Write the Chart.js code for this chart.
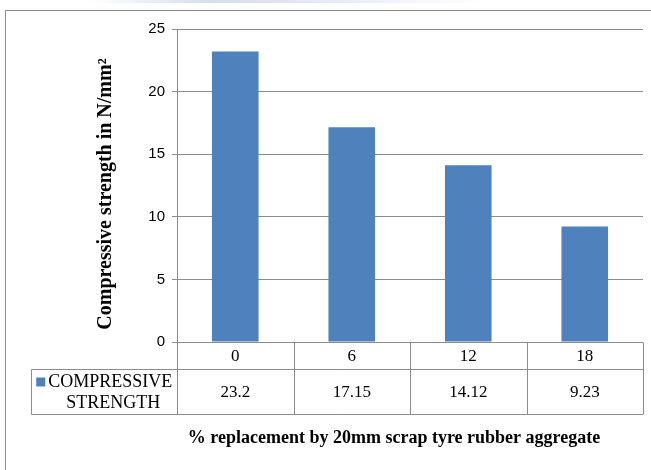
<!DOCTYPE html>
<html>
<head>
<meta charset="utf-8">
<script src="https://cdn.jsdelivr.net/npm/chart.js@4.4.1/dist/chart.umd.min.js"></script>
<style>
  html, body { margin: 0; padding: 0; background: #fff; }
  #wrap { width: 651px; height: 470px; position: relative; }
</style>
</head>
<body>
<div id="wrap"><canvas id="chart"></canvas></div>
<script>
const categories = ['0', '6', '12', '18'];          // % replacement
const strength = [23.2, 17.15, 14.12, 9.23];        // compressive strength N/mm²
const seriesLines = ['COMPRESSIVE', 'STRENGTH'];    // legend text in the data table
const yTitle = 'Compressive strength in N/mm²';
const xTitle = '% replacement by 20mm scrap tyre rubber aggregate';

const barColor = '#4F81BD';
const lineColor = '#8c8c8c';
const serif = '"Liberation Serif", "Times New Roman", serif';

// draws the outer frame, the Excel style data table and the axis titles
const tablePlugin = {
    id: 'dataTable',
    beforeDraw(chart) {
        const ctx = chart.ctx;
        ctx.save();
        // faint strip left over from the page the chart was cut from
        const g = ctx.createLinearGradient(90, 0, 480, 0);
        g.addColorStop(0, 'rgba(190,200,225,0)');
        g.addColorStop(0.3, 'rgba(190,200,225,0.6)');
        g.addColorStop(0.5, 'rgba(215,215,240,0.7)');
        g.addColorStop(1, 'rgba(215,215,240,0)');
        ctx.fillStyle = g;
        ctx.fillRect(90, 0, 390, 3);
        ctx.strokeStyle = lineColor;
        ctx.lineWidth = 1;
        ctx.strokeRect(5.5, 10.5, 700, 500);
        ctx.restore();
    },
    afterDraw(chart) {
        const ctx = chart.ctx;
        const x = chart.scales.x;
        const y = chart.scales.y;
        const area = chart.chartArea;
        const y0 = Math.round(y.getPixelForValue(0)) + 0.5;
        const colW = x.getPixelForValue(1) - x.getPixelForValue(0);
        const row1 = y0 + 27;
        const row2 = row1 + 45;
        const legendLeft = 31.5;

        ctx.save();
        ctx.strokeStyle = lineColor;
        ctx.lineWidth = 1;
        ctx.beginPath();
        ctx.moveTo(legendLeft, row1); ctx.lineTo(area.right, row1);
        ctx.moveTo(legendLeft, row2); ctx.lineTo(area.right, row2);
        for (let i = 0; i <= categories.length; i++) {
            const px = Math.round(x.getPixelForValue(i) - colW / 2) + 0.5;
            ctx.moveTo(px, y0); ctx.lineTo(px, row2);
        }
        ctx.moveTo(legendLeft, row1); ctx.lineTo(legendLeft, row2);
        ctx.stroke();

        ctx.fillStyle = '#000';
        ctx.textAlign = 'center';
        ctx.textBaseline = 'middle';
        ctx.font = '17px ' + serif;
        categories.forEach((c, i) => {
            ctx.fillText(c, x.getPixelForValue(i), (y0 + row1) / 2 + 1);
        });
        strength.forEach((v, i) => {
            ctx.fillText(String(v), x.getPixelForValue(i), (row1 + row2) / 2 + 1);
        });

        // legend cell
        const cellRight = Math.round(x.getPixelForValue(0) - colW / 2);
        const cx = (legendLeft + cellRight) / 2;
        ctx.font = '18px ' + serif;
        const w1 = ctx.measureText(seriesLines[0]).width;
        const sq = 9;
        const start = cx - (w1 + sq + 3) / 2;
        ctx.fillStyle = barColor;
        ctx.fillRect(start, row1 + 8, sq, sq);
        ctx.fillStyle = '#000';
        ctx.textAlign = 'left';
        ctx.fillText(seriesLines[0], start + sq + 3, row1 + 13);
        ctx.textAlign = 'center';
        ctx.fillText(seriesLines[1], cx + 9, row1 + 34);

        // axis titles
        ctx.font = 'bold 18px ' + serif;
        ctx.fillText(xTitle, 394, 438);
        ctx.font = 'bold 20px ' + serif;
        ctx.translate(106, 194);
        ctx.rotate(-Math.PI / 2);
        ctx.fillText(yTitle, 0, 0);
        ctx.restore();
    }
};

new Chart(document.getElementById('chart'), {
    type: 'bar',
    data: {
        labels: categories,
        datasets: [{
            label: seriesLines.join(' '),
            data: strength,
            backgroundColor: barColor,
            borderWidth: 0,
            categoryPercentage: 0.4,
            barPercentage: 1
        }]
    },
    options: {
        responsive: true,
        maintainAspectRatio: false,
        animation: false,
        layout: { padding: { left: 0, top: 29, right: 8, bottom: 128 } },
        scales: {
            x: {
                display: false
            },
            y: {
                min: 0,
                max: 25,
                ticks: {
                    stepSize: 5,
                    color: '#000',
                    padding: 7,
                    font: { family: '"Liberation Sans Narrow", "Liberation Sans", Arial, sans-serif', size: 15 }
                },
                grid: { color: lineColor, tickLength: 5 },
                border: { color: lineColor },
                afterFit(scale) { scale.width = 177; }
            }
        },
        plugins: {
            legend: { display: false },
            tooltip: { enabled: false }
        }
    },
    plugins: [tablePlugin]
});
</script>
</body>
</html>
